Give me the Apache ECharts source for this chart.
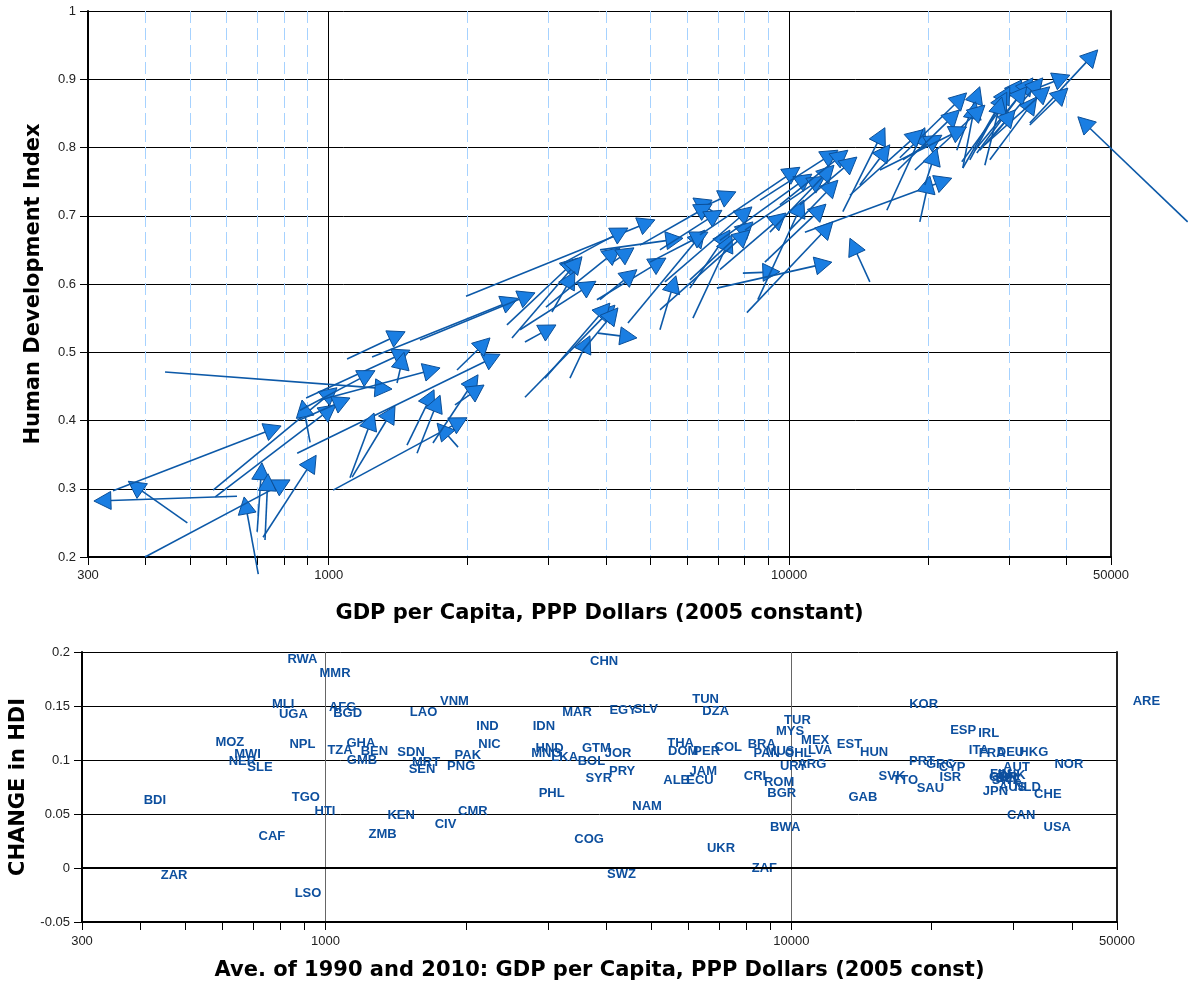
<!DOCTYPE html>
<html><head><meta charset="utf-8">
<script src="https://cdn.jsdelivr.net/npm/echarts@6/dist/echarts.min.js"></script>
<style>html,body{margin:0;padding:0;background:#fff}#c{width:1188px;height:984px}</style>
</head><body><div id="c"></div>
<script>
// ---- Top panel: arrows from 1990 (tail) to 2010 (head) ----
const gdp1990 = [632,493,703,340,399,699,727,720,561,911,567,854,1022,1112,1124,441,1096,893,1407,957,1479,1555,1909,1684,1880,1899,1242,1578,2668,2438,2500,3053,2602,2963,3823,3843,3341,2668,2949,3565,1987,3178,4142,3882,4465,6086,6180,5240,3882,6898,6400,4742,5240,7933,6966,14970,10820,8094,13080,19220,16300,17660,5372,6086,5240,4985,7072,8551,8855,6400,7072,8013,9080,10030,8643,9546,10550,14240,33310,33650,33310,73360,23120,17390,23830,23710,25560,27280,25310,27280,26610,23830,24680,26610,25940,17220,18750,15740,13550,19710,866,866];
const hdi1990 = [0.289,0.250,0.175,0.297,0.200,0.237,0.225,0.229,0.298,0.368,0.288,0.352,0.298,0.316,0.317,0.471,0.490,0.433,0.455,0.430,0.364,0.352,0.361,0.367,0.423,0.474,0.493,0.518,0.515,0.540,0.521,0.559,0.533,0.566,0.577,0.528,0.462,0.434,0.462,0.503,0.582,0.628,0.632,0.577,0.543,0.594,0.550,0.533,0.650,0.704,0.711,0.657,0.650,0.616,0.594,0.603,0.676,0.558,0.706,0.691,0.708,0.782,0.603,0.606,0.562,0.632,0.621,0.577,0.632,0.672,0.664,0.679,0.676,0.679,0.723,0.716,0.716,0.745,0.836,0.884,0.833,0.691,0.796,0.785,0.770,0.779,0.792,0.811,0.796,0.782,0.804,0.770,0.782,0.774,0.796,0.767,0.767,0.767,0.730,0.745,0.401,0.415];
const gdp2010 = [309,367,655,788,824,716,738,939,1042,875,1037,2355,1997,1254,1393,1372,1465,1501,1457,1745,1693,1745,1719,2110,2174,2240,2576,2805,3115,3477,3548,3425,3804,4290,5399,4670,3692,4184,4080,4247,5109,4465,4601,4670,6561,7434,7508,5675,5879,6180,7660,6796,7144,9546,12380,13550,22550,12440,16140,20210,19710,21460,8299,8341,8217,6661,9836,10760,12020,10550,11200,11960,12510,12760,12760,13410,14030,16540,46790,40690,40290,42360,25940,24280,25390,32000,33820,35540,32810,34490,36810,30140,29690,28960,30960,23430,26610,24280,19510,20930,1112,1260];
const hdi2010 = [0.282,0.311,0.288,0.392,0.313,0.338,0.322,0.349,0.448,0.430,0.423,0.497,0.404,0.411,0.421,0.446,0.530,0.503,0.500,0.477,0.445,0.437,0.396,0.467,0.452,0.521,0.579,0.587,0.540,0.638,0.640,0.618,0.604,0.653,0.638,0.521,0.524,0.569,0.572,0.565,0.694,0.682,0.653,0.621,0.679,0.679,0.672,0.612,0.667,0.726,0.735,0.717,0.708,0.618,0.632,0.667,0.755,0.691,0.829,0.758,0.829,0.818,0.713,0.691,0.679,0.676,0.704,0.723,0.717,0.771,0.761,0.758,0.774,0.752,0.796,0.796,0.786,0.804,0.943,0.906,0.887,0.845,0.889,0.880,0.867,0.899,0.902,0.902,0.889,0.874,0.889,0.889,0.881,0.874,0.855,0.855,0.862,0.830,0.826,0.799,0.433,0.473];

// ---- Bottom panel: country labels ----
const countryCodes = ['RWA','MMR','MLI','UGA','AFG','BGD','MOZ','NPL','MWI','NER','SLE','TZA','GHA','BEN','GMB','BDI','TGO','HTI','CAF','ZAR','LSO','ZMB','CHN','VNM','LAO','IND','IDN','MAR','EGY','SLV','NIC','SDN','PAK','MRT','SEN','PNG','HND','MNG','LKA','GTM','BOL','JOR','PRY','SYR','PHL','NAM','KEN','CMR','CIV','COG','SWZ','TUN','DZA','TUR','MYS','MEX','EST','HUN','KOR','THA','DOM','PER','COL','BRA','PAN','MUS','CHL','LVA','URY','ARG','JAM','ALB','ECU','CRI','ROM','BGR','GAB','SVK','TTO','SAU','PRT','GRC','CYP','ISR','BWA','UKR','ZAF','ESP','IRL','ITA','FRA','DEU','HKG','NOR','AUT','FIN','GBR','BEL','DNK','SWE','JPN','AUS','NLD','CHE','CAN','USA','ARE'];
const avgGdp = [892,1048,811,853,1088,1115,623,892,680,663,723,1074,1191,1273,1197,430,907,997,767,473,917,1326,3962,1891,1623,2227,2943,3466,4353,4870,2249,1526,2020,1643,1611,1955,3027,2978,3261,3815,3722,4246,4331,3859,3058,4900,1453,2071,1809,3678,4318,6545,6878,10302,9936,11245,13326,15055,19223,5783,5858,6578,7318,8636,8853,9456,10337,11527,10099,11063,6468,5670,6363,8355,9408,9535,14238,16440,17560,19878,19075,20881,22130,21944,9694,7062,8749,23370,26520,25250,26980,29530,33140,39420,30420,28110,28530,29240,29680,28950,27420,29830,32130,35520,31140,37210,57830];
const hdiChange = [0.193,0.180,0.151,0.142,0.149,0.143,0.116,0.114,0.105,0.099,0.093,0.109,0.115,0.108,0.100,0.063,0.065,0.052,0.029,-0.007,-0.024,0.031,0.191,0.154,0.144,0.131,0.131,0.144,0.146,0.147,0.114,0.107,0.104,0.098,0.091,0.094,0.111,0.106,0.102,0.111,0.099,0.106,0.089,0.083,0.069,0.057,0.049,0.052,0.040,0.026,-0.006,0.156,0.145,0.137,0.126,0.118,0.114,0.107,0.151,0.115,0.108,0.108,0.112,0.114,0.106,0.108,0.106,0.109,0.094,0.096,0.089,0.081,0.081,0.085,0.079,0.069,0.065,0.085,0.081,0.074,0.099,0.096,0.093,0.084,0.038,0.018,0.000,0.127,0.125,0.109,0.106,0.107,0.107,0.096,0.093,0.087,0.084,0.083,0.086,0.081,0.071,0.075,0.075,0.068,0.049,0.038,0.154];

// ---- Tick values ----
const xLabelTicks = [300, 1000, 10000, 50000];
const xMinorTicks = [400,500,600,700,800,900,2000,3000,4000,5000,6000,7000,8000,9000,20000,30000,40000];
const xMajorLines = [1000, 10000];

const arrowData = gdp1990.map((g, i) => [g, hdi1990[i], gdp2010[i], hdi2010[i]]);
const labelData = countryCodes.map((c, i) => ({ name: c, value: [avgGdp[i], hdiChange[i]] }));
const allXTicks = xLabelTicks.concat(xMinorTicks).sort((a, b) => a - b);

const nameFont = { fontFamily: 'DejaVu Sans', fontWeight: 'bold', fontSize: 21, color: '#000' };
const tickFont = { fontFamily: 'Liberation Sans', fontSize: 13, color: '#222' };
const fmtX = v => String(Math.round(v));

const chart = echarts.init(document.getElementById('c'), null, { renderer: 'canvas' });
chart.setOption({
  backgroundColor: '#fff',
  animation: false,
  grid: [
    { left: 88, right: 77, top: 11, bottom: 427 },
    { left: 82, right: 71, top: 652, bottom: 62 }
  ],
  xAxis: [
    { type: 'log', logBase: 10, gridIndex: 0, min: 300, max: 50000, position: 'bottom',
      name: 'GDP per Capita, PPP Dollars (2005 constant)', nameLocation: 'middle', nameGap: 46, nameTextStyle: nameFont,
      axisLine: { show: true, onZero: false, lineStyle: { color: '#000', width: 2 } },
      axisTick: { show: true, customValues: xLabelTicks, length: 8, lineStyle: { color: '#000' } },
      axisLabel: Object.assign({ customValues: xLabelTicks, formatter: fmtX, margin: 12 }, tickFont),
      splitLine: { show: true, lineStyle: { color: '#000', width: 1 } } },
    { type: 'log', logBase: 10, gridIndex: 0, min: 300, max: 50000, position: 'bottom',
      axisLine: { show: false, onZero: false },
      axisTick: { show: true, customValues: xMinorTicks, length: 8, lineStyle: { color: '#000' } },
      axisLabel: { show: false },
      splitLine: { show: true, lineStyle: { color: '#a6d2ff', width: 1, type: [12, 5] } } },
    { type: 'log', logBase: 10, gridIndex: 1, min: 300, max: 50000, position: 'bottom',
      name: 'Ave. of 1990 and 2010: GDP per Capita, PPP Dollars (2005 const)', nameLocation: 'middle', nameGap: 38, nameTextStyle: nameFont,
      axisLine: { show: true, onZero: false, lineStyle: { color: '#000', width: 2 } },
      axisTick: { show: true, customValues: allXTicks, length: 8, lineStyle: { color: '#000' } },
      axisLabel: Object.assign({ customValues: xLabelTicks, formatter: fmtX, margin: 13 }, tickFont),
      splitLine: { show: false } },
    { type: 'log', logBase: 10, gridIndex: 1, min: 300, max: 50000, position: 'bottom',
      axisLine: { show: false, onZero: false },
      axisTick: { show: false, customValues: xMajorLines },
      axisLabel: { show: false },
      splitLine: { show: true, lineStyle: { color: '#666', width: 1 } } }
  ],
  yAxis: [
    { type: 'value', gridIndex: 0, min: 0.2, max: 1, interval: 0.1,
      name: 'Human Development Index', nameLocation: 'middle', nameGap: 44, nameTextStyle: nameFont,
      axisLine: { show: true, onZero: false, lineStyle: { color: '#000', width: 2 } },
      axisTick: { show: true, length: 8, lineStyle: { color: '#000' } },
      axisLabel: Object.assign({ margin: 12 }, tickFont),
      splitLine: { show: true, lineStyle: { color: '#000', width: 1 } } },
    { type: 'value', gridIndex: 1, min: -0.05, max: 0.2, interval: 0.05,
      name: 'CHANGE in HDI', nameLocation: 'middle', nameGap: 46, nameTextStyle: nameFont,
      axisLine: { show: true, onZero: false, lineStyle: { color: '#000', width: 2 } },
      axisTick: { show: true, length: 8, lineStyle: { color: '#000' } },
      axisLabel: Object.assign({ margin: 12 }, tickFont),
      splitLine: { show: true, lineStyle: { color: '#000', width: 1 } } },
    { type: 'value', gridIndex: 0, position: 'right', min: 0, max: 1,
      axisLine: { show: true, onZero: false, lineStyle: { color: '#222', width: 2 } },
      axisTick: { show: false }, axisLabel: { show: false }, splitLine: { show: false } },
    { type: 'value', gridIndex: 1, position: 'right', min: 0, max: 1,
      axisLine: { show: true, onZero: false, lineStyle: { color: '#222', width: 2 } },
      axisTick: { show: false }, axisLabel: { show: false }, splitLine: { show: false } }
  ],
  series: [
    { type: 'custom', xAxisIndex: 0, yAxisIndex: 0, clip: false, silent: true,
      data: arrowData,
      renderItem: function (params, api) {
        const p1 = api.coord([api.value(0), api.value(1)]);
        const p2 = api.coord([api.value(2), api.value(3)]);
        const dx = p2[0] - p1[0], dy = p2[1] - p1[1];
        const len = Math.hypot(dx, dy) || 1;
        const ux = dx / len, uy = dy / len;
        const L = 17, W = 9;
        const bx = p2[0] - ux * L, by = p2[1] - uy * L;
        const a = [bx - uy * W, by + ux * W], b = [bx + uy * W, by - ux * W];
        return { type: 'group', children: [
          { type: 'line', shape: { x1: p1[0], y1: p1[1], x2: bx, y2: by }, style: { stroke: '#0c59a8', lineWidth: 1.6 } },
          { type: 'polygon', shape: { points: [p2, a, b] }, style: { fill: '#1a7ee2', stroke: '#0b4f98', lineWidth: 1 } }
        ] };
      } },
    { type: 'scatter', xAxisIndex: 2, yAxisIndex: 1, clip: false, silent: true,
      symbol: 'circle', symbolSize: 1, itemStyle: { color: 'rgba(255,255,255,0)' },
      data: labelData,
      label: { show: true, position: 'inside', formatter: '{b}', fontFamily: 'Liberation Sans', fontWeight: 'bold', fontSize: 13, color: '#0d4f9e', opacity: 1 },
      labelLayout: { hideOverlap: false },
      markLine: { silent: true, symbol: 'none', label: { show: false }, animation: false,
        lineStyle: { color: '#000', width: 2, type: 'solid' }, data: [{ yAxis: 0 }] } }
  ]
});
</script></body></html>
